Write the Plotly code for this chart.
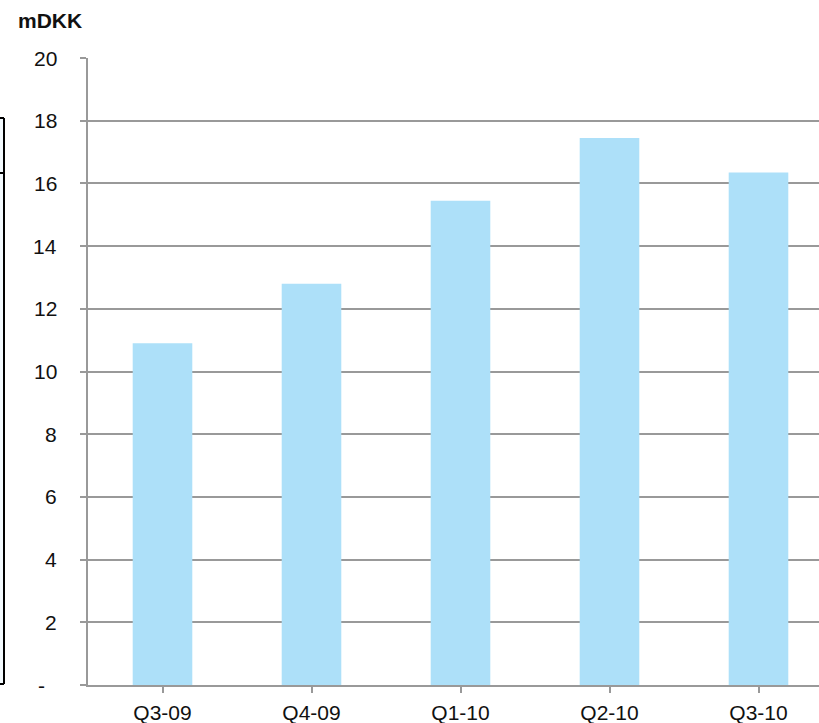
import plotly.graph_objects as go

# Quarterly values in mDKK
quarters = ["Q3-09", "Q4-09", "Q1-10", "Q2-10", "Q3-10"]
values = [10.9, 12.8, 15.45, 17.45, 16.35]

y_ticks = [0, 2, 4, 6, 8, 10, 12, 14, 16, 18, 20]
y_tick_labels = ["-", "2", "4", "6", "8", "10", "12", "14", "16", "18", "20"]

W, H = 819, 723
ML, MT, MB, MR = 88, 58, 38, 0
plot_w = W - ML - MR
plot_h = H - MT - MB
cat_px = 149.0

fig = go.Figure(
    go.Bar(
        x=list(range(len(quarters))),
        y=values,
        marker=dict(color="#ADE0F9", line=dict(width=0)),
        width=0.4,
    )
)

grid = "#999999"
font = dict(family="Liberation Sans, Arial, sans-serif", size=21, color="#111111")

fig.update_layout(
    width=W,
    height=H,
    margin=dict(l=ML, r=MR, t=MT, b=MB, pad=0, autoexpand=False),
    paper_bgcolor="white",
    plot_bgcolor="white",
    showlegend=False,
    font=font,
)

fig.update_xaxes(
    range=[-0.5, -0.5 + plot_w / cat_px],
    tickmode="array",
    tickvals=list(range(len(quarters))),
    ticktext=quarters,
    tickfont=font,
    tickson="boundaries",
    ticks="outside",
    ticklen=6,
    tickwidth=1.5,
    tickcolor=grid,
    showgrid=False,
    showline=True,
    linecolor=grid,
    linewidth=1.5,
    zeroline=False,
    automargin=False,
    ticklabelstandoff=2,
)

fig.update_yaxes(
    range=[0, 20],
    tickmode="array",
    tickvals=y_ticks,
    showticklabels=False,
    ticks="outside",
    ticklen=6,
    tickwidth=1.5,
    tickcolor=grid,
    showgrid=True,
    gridcolor=grid,
    gridwidth=1.5,
    showline=True,
    linecolor=grid,
    linewidth=1.5,
    zeroline=False,
    automargin=False,
)


def px_x(p):
    return (p - ML) / plot_w


def px_y(p):
    return (H - MB - p) / plot_h


# Value-axis labels, right-aligned well clear of the axis; the zero dash sits
# further left, as in an accounting number format
for v, label in zip(y_ticks, y_tick_labels):
    fig.add_annotation(
        text=label, xref="paper", yref="y",
        x=px_x(47 if label == "-" else 59), y=v,
        xanchor="right", yanchor="middle", showarrow=False,
        font=font,
    )

# Unit label above the value axis
fig.add_annotation(
    text="<b>mDKK</b>", xref="paper", yref="paper",
    x=px_x(16), y=px_y(20),
    xanchor="left", yanchor="middle", showarrow=False,
    font=dict(family="Liberation Sans, Arial, sans-serif", size=21, color="#111111"),
)

# Edge of the neighbouring panel on the far left
edge = dict(color="black", width=2)
fig.add_shape(type="rect", xref="paper", yref="paper",
              x0=px_x(-2), x1=px_x(4), y0=px_y(684), y1=px_y(118),
              fillcolor="#F3FAFE", line=dict(width=0), layer="below")
fig.add_shape(type="line", xref="paper", yref="paper",
              x0=px_x(4), x1=px_x(4), y0=px_y(684), y1=px_y(118), line=edge)
for yy in (118, 173, 684):
    fig.add_shape(type="line", xref="paper", yref="paper",
                  x0=px_x(-2), x1=px_x(4), y0=px_y(yy), y1=px_y(yy), line=edge)

fig.write_html("out.html")
